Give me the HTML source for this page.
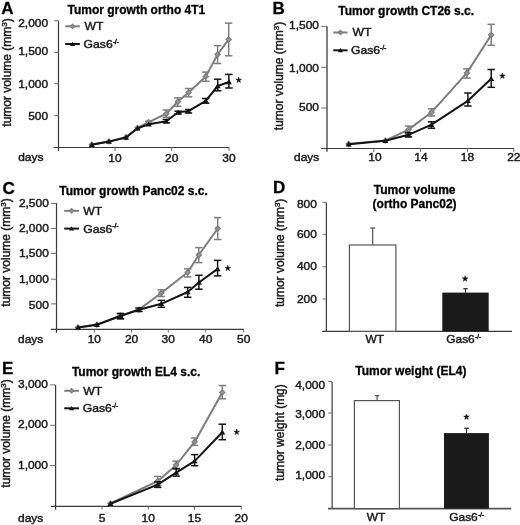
<!DOCTYPE html>
<html><head><meta charset="utf-8"><style>
html,body{margin:0;padding:0;background:#fff;}
svg{display:block;font-family:"Liberation Sans", sans-serif;filter:grayscale(1) blur(0.3px);}
</style></head><body>
<svg width="520" height="525" viewBox="0 0 520 525">
<rect width="520" height="525" fill="#fff"/>
<text x="1.2" y="13.5" font-size="17" text-anchor="start" font-weight="bold" fill="#000" stroke="#000" stroke-width="0.3">A</text>
<text x="67.5" y="14.3" font-size="12" text-anchor="start" font-weight="bold" fill="#000" stroke="#000" stroke-width="0.3">Tumor growth ortho 4T1</text>
<text transform="translate(11.45,126.7) rotate(-90)" x="0" y="0" font-size="12" fill="#1c1c1c" stroke="#1c1c1c" stroke-width="0.45">tumor volume (mm<tspan font-size="8" dy="-4">3</tspan><tspan dy="4">)</tspan></text>
<line x1="58.5" y1="20.7" x2="58.5" y2="151" stroke="#3a3a3a" stroke-width="1.2"/>
<line x1="53.4" y1="147.5" x2="229.2" y2="147.5" stroke="#3a3a3a" stroke-width="1.1"/>
<line x1="54.2" y1="20.7" x2="58.5" y2="20.7" stroke="#6a6a6a" stroke-width="1"/>
<text transform="translate(48.1,27.4) scale(1.05,1)" x="0" y="0" font-size="11.4" text-anchor="end" fill="#1c1c1c" stroke="#1c1c1c" stroke-width="0.45">2,000</text>
<line x1="54.2" y1="52.4" x2="58.5" y2="52.4" stroke="#6a6a6a" stroke-width="1"/>
<text transform="translate(48.1,55.4) scale(1.05,1)" x="0" y="0" font-size="11.4" text-anchor="end" fill="#1c1c1c" stroke="#1c1c1c" stroke-width="0.45">1,500</text>
<line x1="54.2" y1="83.8" x2="58.5" y2="83.8" stroke="#6a6a6a" stroke-width="1"/>
<text transform="translate(48.1,87.6) scale(1.05,1)" x="0" y="0" font-size="11.4" text-anchor="end" fill="#1c1c1c" stroke="#1c1c1c" stroke-width="0.45">1,000</text>
<line x1="54.2" y1="115.7" x2="58.5" y2="115.7" stroke="#6a6a6a" stroke-width="1"/>
<text transform="translate(48.1,120.3) scale(1.05,1)" x="0" y="0" font-size="11.4" text-anchor="end" fill="#1c1c1c" stroke="#1c1c1c" stroke-width="0.45">500</text>
<line x1="115" y1="147.5" x2="115" y2="150.8" stroke="#6a6a6a" stroke-width="1"/>
<text transform="translate(115,161.5) scale(1.05,1)" x="0" y="0" font-size="11.4" text-anchor="middle" fill="#1c1c1c" stroke="#1c1c1c" stroke-width="0.45">10</text>
<line x1="171.7" y1="147.5" x2="171.7" y2="150.8" stroke="#6a6a6a" stroke-width="1"/>
<text transform="translate(171.7,161.5) scale(1.05,1)" x="0" y="0" font-size="11.4" text-anchor="middle" fill="#1c1c1c" stroke="#1c1c1c" stroke-width="0.45">20</text>
<line x1="229" y1="147.5" x2="229" y2="150.8" stroke="#6a6a6a" stroke-width="1"/>
<text transform="translate(229,161.5) scale(1.05,1)" x="0" y="0" font-size="11.4" text-anchor="middle" fill="#1c1c1c" stroke="#1c1c1c" stroke-width="0.45">30</text>
<text transform="translate(18.2,161.3) scale(1.05,1)" x="0" y="0" font-size="11.4" text-anchor="start" fill="#1c1c1c" stroke="#1c1c1c" stroke-width="0.45">days</text>
<line x1="65.2" y1="26.3" x2="79.8" y2="26.3" stroke="#7d7d7d" stroke-width="2"/>
<path d="M70.3,26.3 L72.5,24.1 L74.7,26.3 L72.5,28.5 Z" fill="#959595" stroke="#7d7d7d" stroke-width="1.2"/>
<line x1="65.2" y1="44.0" x2="79.8" y2="44.0" stroke="#141414" stroke-width="2"/>
<path d="M69.9,45.95 L72.5,41.66 L75.1,45.95 Z" fill="#141414"/>
<text transform="translate(84.6,30.0) scale(1.05,1)" x="0" y="0" font-size="11.6" text-anchor="start" fill="#1c1c1c" stroke="#1c1c1c" stroke-width="0.45">WT</text>
<text transform="translate(83.6,48.1) scale(1.05,1)" x="0" y="0" font-size="11.6" text-anchor="start" fill="#1c1c1c" stroke="#1c1c1c" stroke-width="0.45">Gas6<tspan font-size="6.8" dy="-4.3" letter-spacing="-0.2">-/-</tspan></text>
<path d="M91.8,144.6 L109,141.4 L126,137.3 L137.5,128 L148.7,122.1 L166.3,113.7 L177.7,101.8 L188.6,92.4 L205.8,76.4 L217.6,54.5 L228.7,39.4" fill="none" stroke="#7d7d7d" stroke-width="2.0" stroke-linejoin="round"/>
<line x1="148.7" y1="121.2" x2="148.7" y2="124.5" stroke="#7d7d7d" stroke-width="1.5"/>
<line x1="145.0" y1="121.2" x2="152.39999999999998" y2="121.2" stroke="#7d7d7d" stroke-width="1.5"/>
<line x1="145.0" y1="124.5" x2="152.39999999999998" y2="124.5" stroke="#7d7d7d" stroke-width="1.5"/>
<line x1="166.3" y1="110" x2="166.3" y2="117.2" stroke="#7d7d7d" stroke-width="1.5"/>
<line x1="162.60000000000002" y1="110" x2="170.0" y2="110" stroke="#7d7d7d" stroke-width="1.5"/>
<line x1="162.60000000000002" y1="117.2" x2="170.0" y2="117.2" stroke="#7d7d7d" stroke-width="1.5"/>
<line x1="177.7" y1="97.9" x2="177.7" y2="106.3" stroke="#7d7d7d" stroke-width="1.5"/>
<line x1="174.0" y1="97.9" x2="181.39999999999998" y2="97.9" stroke="#7d7d7d" stroke-width="1.5"/>
<line x1="174.0" y1="106.3" x2="181.39999999999998" y2="106.3" stroke="#7d7d7d" stroke-width="1.5"/>
<line x1="188.6" y1="88.5" x2="188.6" y2="96.8" stroke="#7d7d7d" stroke-width="1.5"/>
<line x1="184.9" y1="88.5" x2="192.29999999999998" y2="88.5" stroke="#7d7d7d" stroke-width="1.5"/>
<line x1="184.9" y1="96.8" x2="192.29999999999998" y2="96.8" stroke="#7d7d7d" stroke-width="1.5"/>
<line x1="205.8" y1="72.1" x2="205.8" y2="81.3" stroke="#7d7d7d" stroke-width="1.5"/>
<line x1="202.10000000000002" y1="72.1" x2="209.5" y2="72.1" stroke="#7d7d7d" stroke-width="1.5"/>
<line x1="202.10000000000002" y1="81.3" x2="209.5" y2="81.3" stroke="#7d7d7d" stroke-width="1.5"/>
<line x1="217.6" y1="45.6" x2="217.6" y2="63.5" stroke="#7d7d7d" stroke-width="1.5"/>
<line x1="213.9" y1="45.6" x2="221.29999999999998" y2="45.6" stroke="#7d7d7d" stroke-width="1.5"/>
<line x1="213.9" y1="63.5" x2="221.29999999999998" y2="63.5" stroke="#7d7d7d" stroke-width="1.5"/>
<line x1="228.7" y1="23.1" x2="228.7" y2="55.8" stroke="#7d7d7d" stroke-width="1.5"/>
<line x1="225.0" y1="23.1" x2="232.39999999999998" y2="23.1" stroke="#7d7d7d" stroke-width="1.5"/>
<line x1="225.0" y1="55.8" x2="232.39999999999998" y2="55.8" stroke="#7d7d7d" stroke-width="1.5"/>
<path d="M89.2,144.6 L91.8,142.0 L94.39999999999999,144.6 L91.8,147.2 Z" fill="#959595" stroke="#7d7d7d" stroke-width="1.2"/>
<path d="M106.4,141.4 L109,138.8 L111.6,141.4 L109,144.0 Z" fill="#959595" stroke="#7d7d7d" stroke-width="1.2"/>
<path d="M123.4,137.3 L126,134.70000000000002 L128.6,137.3 L126,139.9 Z" fill="#959595" stroke="#7d7d7d" stroke-width="1.2"/>
<path d="M134.9,128 L137.5,125.4 L140.1,128 L137.5,130.6 Z" fill="#959595" stroke="#7d7d7d" stroke-width="1.2"/>
<path d="M146.1,122.1 L148.7,119.5 L151.29999999999998,122.1 L148.7,124.69999999999999 Z" fill="#959595" stroke="#7d7d7d" stroke-width="1.2"/>
<path d="M163.70000000000002,113.7 L166.3,111.10000000000001 L168.9,113.7 L166.3,116.3 Z" fill="#959595" stroke="#7d7d7d" stroke-width="1.2"/>
<path d="M175.1,101.8 L177.7,99.2 L180.29999999999998,101.8 L177.7,104.39999999999999 Z" fill="#959595" stroke="#7d7d7d" stroke-width="1.2"/>
<path d="M186.0,92.4 L188.6,89.80000000000001 L191.2,92.4 L188.6,95.0 Z" fill="#959595" stroke="#7d7d7d" stroke-width="1.2"/>
<path d="M203.20000000000002,76.4 L205.8,73.80000000000001 L208.4,76.4 L205.8,79.0 Z" fill="#959595" stroke="#7d7d7d" stroke-width="1.2"/>
<path d="M215.0,54.5 L217.6,51.9 L220.2,54.5 L217.6,57.1 Z" fill="#959595" stroke="#7d7d7d" stroke-width="1.2"/>
<path d="M226.1,39.4 L228.7,36.8 L231.29999999999998,39.4 L228.7,42.0 Z" fill="#959595" stroke="#7d7d7d" stroke-width="1.2"/>
<path d="M91.8,144.8 L109,141.6 L126,137.5 L137.5,128.3 L148.7,124.2 L166.3,121.3 L178.1,112.2 L188.5,111.1 L205.7,100.8 L217.7,86.0 L228.9,82.0" fill="none" stroke="#141414" stroke-width="2.0" stroke-linejoin="round"/>
<line x1="166.3" y1="119.4" x2="166.3" y2="122.8" stroke="#141414" stroke-width="1.5"/>
<line x1="162.60000000000002" y1="119.4" x2="170.0" y2="119.4" stroke="#141414" stroke-width="1.5"/>
<line x1="162.60000000000002" y1="122.8" x2="170.0" y2="122.8" stroke="#141414" stroke-width="1.5"/>
<line x1="178.1" y1="111.2" x2="178.1" y2="114" stroke="#141414" stroke-width="1.5"/>
<line x1="174.4" y1="111.2" x2="181.79999999999998" y2="111.2" stroke="#141414" stroke-width="1.5"/>
<line x1="174.4" y1="114" x2="181.79999999999998" y2="114" stroke="#141414" stroke-width="1.5"/>
<line x1="188.5" y1="109.5" x2="188.5" y2="113" stroke="#141414" stroke-width="1.5"/>
<line x1="184.8" y1="109.5" x2="192.2" y2="109.5" stroke="#141414" stroke-width="1.5"/>
<line x1="184.8" y1="113" x2="192.2" y2="113" stroke="#141414" stroke-width="1.5"/>
<line x1="205.7" y1="98.5" x2="205.7" y2="103.2" stroke="#141414" stroke-width="1.5"/>
<line x1="202.0" y1="98.5" x2="209.39999999999998" y2="98.5" stroke="#141414" stroke-width="1.5"/>
<line x1="202.0" y1="103.2" x2="209.39999999999998" y2="103.2" stroke="#141414" stroke-width="1.5"/>
<line x1="217.7" y1="79.2" x2="217.7" y2="90.8" stroke="#141414" stroke-width="1.5"/>
<line x1="214.0" y1="79.2" x2="221.39999999999998" y2="79.2" stroke="#141414" stroke-width="1.5"/>
<line x1="214.0" y1="90.8" x2="221.39999999999998" y2="90.8" stroke="#141414" stroke-width="1.5"/>
<line x1="228.9" y1="74.4" x2="228.9" y2="88.0" stroke="#141414" stroke-width="1.5"/>
<line x1="225.20000000000002" y1="74.4" x2="232.6" y2="74.4" stroke="#141414" stroke-width="1.5"/>
<line x1="225.20000000000002" y1="88.0" x2="232.6" y2="88.0" stroke="#141414" stroke-width="1.5"/>
<path d="M88.8,147.05 L91.8,142.10000000000002 L94.8,147.05 Z" fill="#141414"/>
<path d="M106.0,143.85 L109,138.9 L112.0,143.85 Z" fill="#141414"/>
<path d="M123.0,139.75 L126,134.8 L129.0,139.75 Z" fill="#141414"/>
<path d="M134.5,130.55 L137.5,125.60000000000001 L140.5,130.55 Z" fill="#141414"/>
<path d="M145.7,126.45 L148.7,121.5 L151.7,126.45 Z" fill="#141414"/>
<path d="M163.3,123.55 L166.3,118.6 L169.3,123.55 Z" fill="#141414"/>
<path d="M175.1,114.45 L178.1,109.5 L181.1,114.45 Z" fill="#141414"/>
<path d="M185.5,113.35 L188.5,108.39999999999999 L191.5,113.35 Z" fill="#141414"/>
<path d="M202.7,103.05 L205.7,98.1 L208.7,103.05 Z" fill="#141414"/>
<path d="M214.7,88.25 L217.7,83.3 L220.7,88.25 Z" fill="#141414"/>
<path d="M225.9,84.25 L228.9,79.3 L231.9,84.25 Z" fill="#141414"/>
<polygon points="238.70,77.10 239.38,79.17 241.55,79.17 239.79,80.46 240.46,82.53 238.70,81.25 236.94,82.53 237.61,80.46 235.85,79.17 238.02,79.17" fill="#111" stroke="#111" stroke-width="0.5" stroke-linejoin="round"/>
<text x="272.4" y="13.5" font-size="17" text-anchor="start" font-weight="bold" fill="#000" stroke="#000" stroke-width="0.3">B</text>
<text x="338.3" y="15.1" font-size="12" text-anchor="start" font-weight="bold" fill="#000" stroke="#000" stroke-width="0.3">Tumor growth CT26 s.c.</text>
<text transform="translate(282.7,130.2) rotate(-90)" x="0" y="0" font-size="12" fill="#1c1c1c" stroke="#1c1c1c" stroke-width="0.45">tumor volume (mm<tspan font-size="8" dy="-4">3</tspan><tspan dy="4">)</tspan></text>
<line x1="327.0" y1="26.3" x2="327.0" y2="151.8" stroke="#3a3a3a" stroke-width="1.3"/>
<line x1="321.3" y1="148.5" x2="514" y2="148.5" stroke="#3a3a3a" stroke-width="1.1"/>
<line x1="321.3" y1="26.4" x2="327.0" y2="26.4" stroke="#6a6a6a" stroke-width="1"/>
<text transform="translate(319.0,29.1) scale(1.05,1)" x="0" y="0" font-size="11.4" text-anchor="end" fill="#1c1c1c" stroke="#1c1c1c" stroke-width="0.45">1,500</text>
<line x1="321.3" y1="67.3" x2="327.0" y2="67.3" stroke="#6a6a6a" stroke-width="1"/>
<text transform="translate(319.0,71.9) scale(1.05,1)" x="0" y="0" font-size="11.4" text-anchor="end" fill="#1c1c1c" stroke="#1c1c1c" stroke-width="0.45">1,000</text>
<line x1="321.3" y1="108.0" x2="327.0" y2="108.0" stroke="#6a6a6a" stroke-width="1"/>
<text transform="translate(319.0,111.4) scale(1.05,1)" x="0" y="0" font-size="11.4" text-anchor="end" fill="#1c1c1c" stroke="#1c1c1c" stroke-width="0.45">500</text>
<line x1="373.8" y1="148.5" x2="373.8" y2="152.2" stroke="#6a6a6a" stroke-width="1"/>
<text transform="translate(374.9,161.3) scale(1.05,1)" x="0" y="0" font-size="11.4" text-anchor="middle" fill="#1c1c1c" stroke="#1c1c1c" stroke-width="0.45">10</text>
<line x1="420.6" y1="148.5" x2="420.6" y2="152.2" stroke="#6a6a6a" stroke-width="1"/>
<text transform="translate(421.0,161.3) scale(1.05,1)" x="0" y="0" font-size="11.4" text-anchor="middle" fill="#1c1c1c" stroke="#1c1c1c" stroke-width="0.45">14</text>
<line x1="467.4" y1="148.5" x2="467.4" y2="152.2" stroke="#6a6a6a" stroke-width="1"/>
<text transform="translate(467.4,161.3) scale(1.05,1)" x="0" y="0" font-size="11.4" text-anchor="middle" fill="#1c1c1c" stroke="#1c1c1c" stroke-width="0.45">18</text>
<line x1="513.8" y1="148.5" x2="513.8" y2="152.2" stroke="#6a6a6a" stroke-width="1"/>
<text transform="translate(513.8,161.3) scale(1.05,1)" x="0" y="0" font-size="11.4" text-anchor="middle" fill="#1c1c1c" stroke="#1c1c1c" stroke-width="0.45">22</text>
<text transform="translate(294,161.2) scale(1.05,1)" x="0" y="0" font-size="11.4" text-anchor="start" fill="#1c1c1c" stroke="#1c1c1c" stroke-width="0.45">days</text>
<line x1="333.3" y1="32.5" x2="347.6" y2="32.5" stroke="#7d7d7d" stroke-width="2"/>
<path d="M338.25000000000006,32.5 L340.45000000000005,30.3 L342.65000000000003,32.5 L340.45000000000005,34.7 Z" fill="#959595" stroke="#7d7d7d" stroke-width="1.2"/>
<line x1="333.3" y1="50.3" x2="347.6" y2="50.3" stroke="#141414" stroke-width="2"/>
<path d="M337.85,52.25 L340.45000000000005,47.959999999999994 L343.05000000000007,52.25 Z" fill="#141414"/>
<text transform="translate(352.4,36.2) scale(1.05,1)" x="0" y="0" font-size="11.6" text-anchor="start" fill="#1c1c1c" stroke="#1c1c1c" stroke-width="0.45">WT</text>
<text transform="translate(351.0,54.4) scale(1.05,1)" x="0" y="0" font-size="11.6" text-anchor="start" fill="#1c1c1c" stroke="#1c1c1c" stroke-width="0.45">Gas6<tspan font-size="6.8" dy="-4.3" letter-spacing="-0.2">-/-</tspan></text>
<path d="M348.7,144 L385.4,140.6 L408.5,129.6 L431.5,112.3 L466.9,72.9 L491.2,35.0" fill="none" stroke="#7d7d7d" stroke-width="2.0" stroke-linejoin="round"/>
<line x1="408.5" y1="126.1" x2="408.5" y2="133.4" stroke="#7d7d7d" stroke-width="1.5"/>
<line x1="404.8" y1="126.1" x2="412.2" y2="126.1" stroke="#7d7d7d" stroke-width="1.5"/>
<line x1="404.8" y1="133.4" x2="412.2" y2="133.4" stroke="#7d7d7d" stroke-width="1.5"/>
<line x1="431.5" y1="108.8" x2="431.5" y2="116" stroke="#7d7d7d" stroke-width="1.5"/>
<line x1="427.8" y1="108.8" x2="435.2" y2="108.8" stroke="#7d7d7d" stroke-width="1.5"/>
<line x1="427.8" y1="116" x2="435.2" y2="116" stroke="#7d7d7d" stroke-width="1.5"/>
<line x1="466.9" y1="68.8" x2="466.9" y2="78.1" stroke="#7d7d7d" stroke-width="1.5"/>
<line x1="463.2" y1="68.8" x2="470.59999999999997" y2="68.8" stroke="#7d7d7d" stroke-width="1.5"/>
<line x1="463.2" y1="78.1" x2="470.59999999999997" y2="78.1" stroke="#7d7d7d" stroke-width="1.5"/>
<line x1="491.2" y1="24.3" x2="491.2" y2="45.3" stroke="#7d7d7d" stroke-width="1.5"/>
<line x1="487.5" y1="24.3" x2="494.9" y2="24.3" stroke="#7d7d7d" stroke-width="1.5"/>
<line x1="487.5" y1="45.3" x2="494.9" y2="45.3" stroke="#7d7d7d" stroke-width="1.5"/>
<path d="M346.09999999999997,144 L348.7,141.4 L351.3,144 L348.7,146.6 Z" fill="#959595" stroke="#7d7d7d" stroke-width="1.2"/>
<path d="M382.79999999999995,140.6 L385.4,138.0 L388.0,140.6 L385.4,143.2 Z" fill="#959595" stroke="#7d7d7d" stroke-width="1.2"/>
<path d="M405.9,129.6 L408.5,127.0 L411.1,129.6 L408.5,132.2 Z" fill="#959595" stroke="#7d7d7d" stroke-width="1.2"/>
<path d="M428.9,112.3 L431.5,109.7 L434.1,112.3 L431.5,114.89999999999999 Z" fill="#959595" stroke="#7d7d7d" stroke-width="1.2"/>
<path d="M464.29999999999995,72.9 L466.9,70.30000000000001 L469.5,72.9 L466.9,75.5 Z" fill="#959595" stroke="#7d7d7d" stroke-width="1.2"/>
<path d="M488.59999999999997,35.0 L491.2,32.4 L493.8,35.0 L491.2,37.6 Z" fill="#959595" stroke="#7d7d7d" stroke-width="1.2"/>
<path d="M348.7,144.2 L385.4,140.8 L408.5,134.8 L431.5,124.7 L467.9,100.8 L491.2,78.8" fill="none" stroke="#141414" stroke-width="2.0" stroke-linejoin="round"/>
<line x1="408.5" y1="132.6" x2="408.5" y2="137" stroke="#141414" stroke-width="1.5"/>
<line x1="404.8" y1="132.6" x2="412.2" y2="132.6" stroke="#141414" stroke-width="1.5"/>
<line x1="404.8" y1="137" x2="412.2" y2="137" stroke="#141414" stroke-width="1.5"/>
<line x1="431.5" y1="121.8" x2="431.5" y2="128.2" stroke="#141414" stroke-width="1.5"/>
<line x1="427.8" y1="121.8" x2="435.2" y2="121.8" stroke="#141414" stroke-width="1.5"/>
<line x1="427.8" y1="128.2" x2="435.2" y2="128.2" stroke="#141414" stroke-width="1.5"/>
<line x1="467.9" y1="93" x2="467.9" y2="106" stroke="#141414" stroke-width="1.5"/>
<line x1="464.2" y1="93" x2="471.59999999999997" y2="93" stroke="#141414" stroke-width="1.5"/>
<line x1="464.2" y1="106" x2="471.59999999999997" y2="106" stroke="#141414" stroke-width="1.5"/>
<line x1="491.2" y1="69.5" x2="491.2" y2="87.3" stroke="#141414" stroke-width="1.5"/>
<line x1="487.5" y1="69.5" x2="494.9" y2="69.5" stroke="#141414" stroke-width="1.5"/>
<line x1="487.5" y1="87.3" x2="494.9" y2="87.3" stroke="#141414" stroke-width="1.5"/>
<path d="M345.7,146.45 L348.7,141.5 L351.7,146.45 Z" fill="#141414"/>
<path d="M382.4,143.05 L385.4,138.10000000000002 L388.4,143.05 Z" fill="#141414"/>
<path d="M405.5,137.05 L408.5,132.10000000000002 L411.5,137.05 Z" fill="#141414"/>
<path d="M428.5,126.95 L431.5,122.0 L434.5,126.95 Z" fill="#141414"/>
<path d="M464.9,103.05 L467.9,98.1 L470.9,103.05 Z" fill="#141414"/>
<path d="M488.2,81.05 L491.2,76.1 L494.2,81.05 Z" fill="#141414"/>
<polygon points="502.40,73.00 503.08,75.07 505.25,75.07 503.49,76.36 504.16,78.43 502.40,77.15 500.64,78.43 501.31,76.36 499.55,75.07 501.72,75.07" fill="#111" stroke="#111" stroke-width="0.5" stroke-linejoin="round"/>
<text x="2.5" y="193.6" font-size="17" text-anchor="start" font-weight="bold" fill="#000" stroke="#000" stroke-width="0.3">C</text>
<text x="59.3" y="194.6" font-size="12" text-anchor="start" font-weight="bold" fill="#000" stroke="#000" stroke-width="0.3">Tumor growth Panc02 s.c.</text>
<text transform="translate(10.3,306.7) rotate(-90)" x="0" y="0" font-size="12" fill="#1c1c1c" stroke="#1c1c1c" stroke-width="0.45">tumor volume (mm<tspan font-size="8" dy="-4">3</tspan><tspan dy="4">)</tspan></text>
<line x1="56.5" y1="203" x2="56.5" y2="332.8" stroke="#3a3a3a" stroke-width="1.2"/>
<line x1="50.8" y1="329.4" x2="244" y2="329.4" stroke="#3a3a3a" stroke-width="1.1"/>
<line x1="51.1" y1="203.4" x2="56.5" y2="203.4" stroke="#6a6a6a" stroke-width="1"/>
<text transform="translate(48.8,206.6) scale(1.05,1)" x="0" y="0" font-size="11.4" text-anchor="end" fill="#1c1c1c" stroke="#1c1c1c" stroke-width="0.45">2,500</text>
<line x1="51.1" y1="228.4" x2="56.5" y2="228.4" stroke="#6a6a6a" stroke-width="1"/>
<text transform="translate(48.8,232.2) scale(1.05,1)" x="0" y="0" font-size="11.4" text-anchor="end" fill="#1c1c1c" stroke="#1c1c1c" stroke-width="0.45">2,000</text>
<line x1="51.1" y1="253.4" x2="56.5" y2="253.4" stroke="#6a6a6a" stroke-width="1"/>
<text transform="translate(48.8,257.0) scale(1.05,1)" x="0" y="0" font-size="11.4" text-anchor="end" fill="#1c1c1c" stroke="#1c1c1c" stroke-width="0.45">1,500</text>
<line x1="51.1" y1="279.2" x2="56.5" y2="279.2" stroke="#6a6a6a" stroke-width="1"/>
<text transform="translate(48.8,283.4) scale(1.05,1)" x="0" y="0" font-size="11.4" text-anchor="end" fill="#1c1c1c" stroke="#1c1c1c" stroke-width="0.45">1,000</text>
<line x1="51.1" y1="303.9" x2="56.5" y2="303.9" stroke="#6a6a6a" stroke-width="1"/>
<text transform="translate(48.8,309.1) scale(1.05,1)" x="0" y="0" font-size="11.4" text-anchor="end" fill="#1c1c1c" stroke="#1c1c1c" stroke-width="0.45">500</text>
<line x1="94.3" y1="329.4" x2="94.3" y2="332.6" stroke="#6a6a6a" stroke-width="1"/>
<text transform="translate(94.3,343.4) scale(1.05,1)" x="0" y="0" font-size="11.4" text-anchor="middle" fill="#1c1c1c" stroke="#1c1c1c" stroke-width="0.45">10</text>
<line x1="131.6" y1="329.4" x2="131.6" y2="332.6" stroke="#6a6a6a" stroke-width="1"/>
<text transform="translate(131.6,343.4) scale(1.05,1)" x="0" y="0" font-size="11.4" text-anchor="middle" fill="#1c1c1c" stroke="#1c1c1c" stroke-width="0.45">20</text>
<line x1="168.25" y1="329.4" x2="168.25" y2="332.6" stroke="#6a6a6a" stroke-width="1"/>
<text transform="translate(168.25,343.4) scale(1.05,1)" x="0" y="0" font-size="11.4" text-anchor="middle" fill="#1c1c1c" stroke="#1c1c1c" stroke-width="0.45">30</text>
<line x1="205.75" y1="329.4" x2="205.75" y2="332.6" stroke="#6a6a6a" stroke-width="1"/>
<text transform="translate(205.75,343.4) scale(1.05,1)" x="0" y="0" font-size="11.4" text-anchor="middle" fill="#1c1c1c" stroke="#1c1c1c" stroke-width="0.45">40</text>
<line x1="243.75" y1="329.4" x2="243.75" y2="332.6" stroke="#6a6a6a" stroke-width="1"/>
<text transform="translate(243.75,343.4) scale(1.05,1)" x="0" y="0" font-size="11.4" text-anchor="middle" fill="#1c1c1c" stroke="#1c1c1c" stroke-width="0.45">50</text>
<text transform="translate(18,343.3) scale(1.05,1)" x="0" y="0" font-size="11.4" text-anchor="start" fill="#1c1c1c" stroke="#1c1c1c" stroke-width="0.45">days</text>
<line x1="64.2" y1="210.8" x2="79" y2="210.8" stroke="#7d7d7d" stroke-width="2"/>
<path d="M69.39999999999999,210.8 L71.6,208.60000000000002 L73.8,210.8 L71.6,213.0 Z" fill="#959595" stroke="#7d7d7d" stroke-width="1.2"/>
<line x1="64.2" y1="228.6" x2="79" y2="228.6" stroke="#141414" stroke-width="2"/>
<path d="M69.0,230.54999999999998 L71.6,226.26 L74.19999999999999,230.54999999999998 Z" fill="#141414"/>
<text transform="translate(83.3,214.5) scale(1.05,1)" x="0" y="0" font-size="11.6" text-anchor="start" fill="#1c1c1c" stroke="#1c1c1c" stroke-width="0.45">WT</text>
<text transform="translate(83.3,232.7) scale(1.05,1)" x="0" y="0" font-size="11.6" text-anchor="start" fill="#1c1c1c" stroke="#1c1c1c" stroke-width="0.45">Gas6<tspan font-size="6.8" dy="-4.3" letter-spacing="-0.2">-/-</tspan></text>
<path d="M78,327.4 L96.9,324.6 L120.5,315.8 L138.9,309.6 L161.3,293 L187.7,272.3 L198.8,255 L217.7,228.5" fill="none" stroke="#7d7d7d" stroke-width="2.0" stroke-linejoin="round"/>
<line x1="120.5" y1="313.5" x2="120.5" y2="318.8" stroke="#7d7d7d" stroke-width="1.5"/>
<line x1="116.8" y1="313.5" x2="124.2" y2="313.5" stroke="#7d7d7d" stroke-width="1.5"/>
<line x1="116.8" y1="318.8" x2="124.2" y2="318.8" stroke="#7d7d7d" stroke-width="1.5"/>
<line x1="161.3" y1="289.8" x2="161.3" y2="296.5" stroke="#7d7d7d" stroke-width="1.5"/>
<line x1="157.60000000000002" y1="289.8" x2="165.0" y2="289.8" stroke="#7d7d7d" stroke-width="1.5"/>
<line x1="157.60000000000002" y1="296.5" x2="165.0" y2="296.5" stroke="#7d7d7d" stroke-width="1.5"/>
<line x1="187.7" y1="268.8" x2="187.7" y2="276.9" stroke="#7d7d7d" stroke-width="1.5"/>
<line x1="184.0" y1="268.8" x2="191.39999999999998" y2="268.8" stroke="#7d7d7d" stroke-width="1.5"/>
<line x1="184.0" y1="276.9" x2="191.39999999999998" y2="276.9" stroke="#7d7d7d" stroke-width="1.5"/>
<line x1="198.8" y1="247.6" x2="198.8" y2="262.6" stroke="#7d7d7d" stroke-width="1.5"/>
<line x1="195.10000000000002" y1="247.6" x2="202.5" y2="247.6" stroke="#7d7d7d" stroke-width="1.5"/>
<line x1="195.10000000000002" y1="262.6" x2="202.5" y2="262.6" stroke="#7d7d7d" stroke-width="1.5"/>
<line x1="217.7" y1="217.6" x2="217.7" y2="239.5" stroke="#7d7d7d" stroke-width="1.5"/>
<line x1="214.0" y1="217.6" x2="221.39999999999998" y2="217.6" stroke="#7d7d7d" stroke-width="1.5"/>
<line x1="214.0" y1="239.5" x2="221.39999999999998" y2="239.5" stroke="#7d7d7d" stroke-width="1.5"/>
<path d="M75.4,327.4 L78,324.79999999999995 L80.6,327.4 L78,330.0 Z" fill="#959595" stroke="#7d7d7d" stroke-width="1.2"/>
<path d="M94.30000000000001,324.6 L96.9,322.0 L99.5,324.6 L96.9,327.20000000000005 Z" fill="#959595" stroke="#7d7d7d" stroke-width="1.2"/>
<path d="M117.9,315.8 L120.5,313.2 L123.1,315.8 L120.5,318.40000000000003 Z" fill="#959595" stroke="#7d7d7d" stroke-width="1.2"/>
<path d="M136.3,309.6 L138.9,307.0 L141.5,309.6 L138.9,312.20000000000005 Z" fill="#959595" stroke="#7d7d7d" stroke-width="1.2"/>
<path d="M158.70000000000002,293 L161.3,290.4 L163.9,293 L161.3,295.6 Z" fill="#959595" stroke="#7d7d7d" stroke-width="1.2"/>
<path d="M185.1,272.3 L187.7,269.7 L190.29999999999998,272.3 L187.7,274.90000000000003 Z" fill="#959595" stroke="#7d7d7d" stroke-width="1.2"/>
<path d="M196.20000000000002,255 L198.8,252.4 L201.4,255 L198.8,257.6 Z" fill="#959595" stroke="#7d7d7d" stroke-width="1.2"/>
<path d="M215.1,228.5 L217.7,225.9 L220.29999999999998,228.5 L217.7,231.1 Z" fill="#959595" stroke="#7d7d7d" stroke-width="1.2"/>
<path d="M78,327.6 L96.9,324.8 L120.5,316 L138.9,309.8 L161.3,303.8 L187.7,292.0 L198.9,282.5 L217.6,268.9" fill="none" stroke="#141414" stroke-width="2.0" stroke-linejoin="round"/>
<line x1="120.5" y1="313.5" x2="120.5" y2="318.8" stroke="#141414" stroke-width="1.5"/>
<line x1="116.8" y1="313.5" x2="124.2" y2="313.5" stroke="#141414" stroke-width="1.5"/>
<line x1="116.8" y1="318.8" x2="124.2" y2="318.8" stroke="#141414" stroke-width="1.5"/>
<line x1="138.9" y1="308" x2="138.9" y2="311.5" stroke="#141414" stroke-width="1.5"/>
<line x1="135.20000000000002" y1="308" x2="142.6" y2="308" stroke="#141414" stroke-width="1.5"/>
<line x1="135.20000000000002" y1="311.5" x2="142.6" y2="311.5" stroke="#141414" stroke-width="1.5"/>
<line x1="161.3" y1="300.4" x2="161.3" y2="307.3" stroke="#141414" stroke-width="1.5"/>
<line x1="157.60000000000002" y1="300.4" x2="165.0" y2="300.4" stroke="#141414" stroke-width="1.5"/>
<line x1="157.60000000000002" y1="307.3" x2="165.0" y2="307.3" stroke="#141414" stroke-width="1.5"/>
<line x1="187.7" y1="287.4" x2="187.7" y2="297.3" stroke="#141414" stroke-width="1.5"/>
<line x1="184.0" y1="287.4" x2="191.39999999999998" y2="287.4" stroke="#141414" stroke-width="1.5"/>
<line x1="184.0" y1="297.3" x2="191.39999999999998" y2="297.3" stroke="#141414" stroke-width="1.5"/>
<line x1="198.9" y1="275.3" x2="198.9" y2="289.2" stroke="#141414" stroke-width="1.5"/>
<line x1="195.20000000000002" y1="275.3" x2="202.6" y2="275.3" stroke="#141414" stroke-width="1.5"/>
<line x1="195.20000000000002" y1="289.2" x2="202.6" y2="289.2" stroke="#141414" stroke-width="1.5"/>
<line x1="217.6" y1="260.4" x2="217.6" y2="275.9" stroke="#141414" stroke-width="1.5"/>
<line x1="213.9" y1="260.4" x2="221.29999999999998" y2="260.4" stroke="#141414" stroke-width="1.5"/>
<line x1="213.9" y1="275.9" x2="221.29999999999998" y2="275.9" stroke="#141414" stroke-width="1.5"/>
<path d="M75.0,329.85 L78,324.90000000000003 L81.0,329.85 Z" fill="#141414"/>
<path d="M93.9,327.05 L96.9,322.1 L99.9,327.05 Z" fill="#141414"/>
<path d="M117.5,318.25 L120.5,313.3 L123.5,318.25 Z" fill="#141414"/>
<path d="M135.9,312.05 L138.9,307.1 L141.9,312.05 Z" fill="#141414"/>
<path d="M158.3,306.05 L161.3,301.1 L164.3,306.05 Z" fill="#141414"/>
<path d="M184.7,294.25 L187.7,289.3 L190.7,294.25 Z" fill="#141414"/>
<path d="M195.9,284.75 L198.9,279.8 L201.9,284.75 Z" fill="#141414"/>
<path d="M214.6,271.15 L217.6,266.2 L220.6,271.15 Z" fill="#141414"/>
<polygon points="227.80,265.20 228.48,267.27 230.65,267.27 228.89,268.56 229.56,270.63 227.80,269.35 226.04,270.63 226.71,268.56 224.95,267.27 227.12,267.27" fill="#111" stroke="#111" stroke-width="0.5" stroke-linejoin="round"/>
<text x="273.0" y="192.9" font-size="17" text-anchor="start" font-weight="bold" fill="#000" stroke="#000" stroke-width="0.3">D</text>
<text x="414.6" y="194.4" font-size="12" text-anchor="middle" font-weight="bold" fill="#000" stroke="#000" stroke-width="0.3">Tumor volume</text>
<text x="414.6" y="208.0" font-size="12" text-anchor="middle" font-weight="bold" fill="#000" stroke="#000" stroke-width="0.3">(ortho Panc02)</text>
<text transform="translate(284.4,307.1) rotate(-90)" x="0" y="0" font-size="12" fill="#1c1c1c" stroke="#1c1c1c" stroke-width="0.45">tumor volume (mm<tspan font-size="8" dy="-4">3</tspan><tspan dy="4">)</tspan></text>
<line x1="326.4" y1="202.6" x2="326.4" y2="331.3" stroke="#3a3a3a" stroke-width="1.2"/>
<line x1="322.2" y1="331.3" x2="512" y2="331.3" stroke="#3a3a3a" stroke-width="1.2"/>
<line x1="322.5" y1="202.3" x2="326.4" y2="202.3" stroke="#6a6a6a" stroke-width="1"/>
<text transform="translate(316.9,207.5) scale(1.05,1)" x="0" y="0" font-size="11.4" text-anchor="end" fill="#1c1c1c" stroke="#1c1c1c" stroke-width="0.45">800</text>
<line x1="322.5" y1="234.3" x2="326.4" y2="234.3" stroke="#6a6a6a" stroke-width="1"/>
<text transform="translate(316.9,238.1) scale(1.05,1)" x="0" y="0" font-size="11.4" text-anchor="end" fill="#1c1c1c" stroke="#1c1c1c" stroke-width="0.45">600</text>
<line x1="322.5" y1="266.8" x2="326.4" y2="266.8" stroke="#6a6a6a" stroke-width="1"/>
<text transform="translate(316.9,270.2) scale(1.05,1)" x="0" y="0" font-size="11.4" text-anchor="end" fill="#1c1c1c" stroke="#1c1c1c" stroke-width="0.45">400</text>
<line x1="322.5" y1="299.0" x2="326.4" y2="299.0" stroke="#6a6a6a" stroke-width="1"/>
<text transform="translate(316.9,302.6) scale(1.05,1)" x="0" y="0" font-size="11.4" text-anchor="end" fill="#1c1c1c" stroke="#1c1c1c" stroke-width="0.45">200</text>
<line x1="372.7" y1="228.0" x2="372.7" y2="245" stroke="#555" stroke-width="1.2"/>
<line x1="370.2" y1="228.0" x2="375.2" y2="228.0" stroke="#555" stroke-width="1.3"/>
<rect x="349.4" y="245" width="46.5" height="86.3" fill="#fff" stroke="#555" stroke-width="1.2"/>
<line x1="465.5" y1="288.7" x2="465.5" y2="292.6" stroke="#333" stroke-width="1.2"/>
<line x1="463.3" y1="288.7" x2="467.7" y2="288.7" stroke="#333" stroke-width="1.3"/>
<rect x="442.3" y="292.6" width="46.4" height="38.7" fill="#1a1a1a"/>
<polygon points="465.10,275.80 465.78,277.87 467.95,277.87 466.19,279.16 466.86,281.23 465.10,279.95 463.34,281.23 464.01,279.16 462.25,277.87 464.42,277.87" fill="#111" stroke="#111" stroke-width="0.5" stroke-linejoin="round"/>
<text transform="translate(374.8,343.2) scale(1.05,1)" x="0" y="0" font-size="11.4" text-anchor="middle" fill="#1c1c1c" stroke="#1c1c1c" stroke-width="0.45">WT</text>
<text transform="translate(446.2,343.2) scale(1.05,1)" x="0" y="0" font-size="11.4" text-anchor="start" fill="#1c1c1c" stroke="#1c1c1c" stroke-width="0.45">Gas6<tspan font-size="6.8" dy="-4.3" letter-spacing="-0.2">-/-</tspan></text>
<text x="2.0" y="374.3" font-size="17" text-anchor="start" font-weight="bold" fill="#000" stroke="#000" stroke-width="0.3">E</text>
<text x="71.9" y="375.8" font-size="12" text-anchor="start" font-weight="bold" fill="#000" stroke="#000" stroke-width="0.3">Tumor growth EL4 s.c.</text>
<text transform="translate(9.9,487.7) rotate(-90)" x="0" y="0" font-size="12" fill="#1c1c1c" stroke="#1c1c1c" stroke-width="0.45">tumor volume (mm<tspan font-size="8" dy="-4">3</tspan><tspan dy="4">)</tspan></text>
<line x1="55.6" y1="385" x2="55.6" y2="509.8" stroke="#3a3a3a" stroke-width="1.2"/>
<line x1="50.8" y1="506.4" x2="241.5" y2="506.4" stroke="#3a3a3a" stroke-width="1.1"/>
<line x1="50.2" y1="384.9" x2="55.6" y2="384.9" stroke="#6a6a6a" stroke-width="1"/>
<text transform="translate(47.9,388.3) scale(1.05,1)" x="0" y="0" font-size="11.4" text-anchor="end" fill="#1c1c1c" stroke="#1c1c1c" stroke-width="0.45">3,000</text>
<line x1="50.2" y1="425.3" x2="55.6" y2="425.3" stroke="#6a6a6a" stroke-width="1"/>
<text transform="translate(47.9,427.6) scale(1.05,1)" x="0" y="0" font-size="11.4" text-anchor="end" fill="#1c1c1c" stroke="#1c1c1c" stroke-width="0.45">2,000</text>
<line x1="50.2" y1="465.6" x2="55.6" y2="465.6" stroke="#6a6a6a" stroke-width="1"/>
<text transform="translate(47.9,469.0) scale(1.05,1)" x="0" y="0" font-size="11.4" text-anchor="end" fill="#1c1c1c" stroke="#1c1c1c" stroke-width="0.45">1,000</text>
<line x1="102" y1="506.4" x2="102" y2="509.6" stroke="#6a6a6a" stroke-width="1"/>
<text transform="translate(102,522.0) scale(1.05,1)" x="0" y="0" font-size="11.4" text-anchor="middle" fill="#1c1c1c" stroke="#1c1c1c" stroke-width="0.45">5</text>
<line x1="148.25" y1="506.4" x2="148.25" y2="509.6" stroke="#6a6a6a" stroke-width="1"/>
<text transform="translate(148.25,522.0) scale(1.05,1)" x="0" y="0" font-size="11.4" text-anchor="middle" fill="#1c1c1c" stroke="#1c1c1c" stroke-width="0.45">10</text>
<line x1="194.5" y1="506.4" x2="194.5" y2="509.6" stroke="#6a6a6a" stroke-width="1"/>
<text transform="translate(194.5,522.0) scale(1.05,1)" x="0" y="0" font-size="11.4" text-anchor="middle" fill="#1c1c1c" stroke="#1c1c1c" stroke-width="0.45">15</text>
<line x1="241.25" y1="506.4" x2="241.25" y2="509.6" stroke="#6a6a6a" stroke-width="1"/>
<text transform="translate(241.25,522.0) scale(1.05,1)" x="0" y="0" font-size="11.4" text-anchor="middle" fill="#1c1c1c" stroke="#1c1c1c" stroke-width="0.45">20</text>
<text transform="translate(18,522.0) scale(1.05,1)" x="0" y="0" font-size="11.4" text-anchor="start" fill="#1c1c1c" stroke="#1c1c1c" stroke-width="0.45">days</text>
<line x1="64.2" y1="390.8" x2="79" y2="390.8" stroke="#7d7d7d" stroke-width="2"/>
<path d="M69.39999999999999,390.8 L71.6,388.6 L73.8,390.8 L71.6,393.0 Z" fill="#959595" stroke="#7d7d7d" stroke-width="1.2"/>
<line x1="64.2" y1="408.3" x2="79" y2="408.3" stroke="#141414" stroke-width="2"/>
<path d="M69.0,410.25 L71.6,405.96000000000004 L74.19999999999999,410.25 Z" fill="#141414"/>
<text transform="translate(83.3,394.5) scale(1.05,1)" x="0" y="0" font-size="11.6" text-anchor="start" fill="#1c1c1c" stroke="#1c1c1c" stroke-width="0.45">WT</text>
<text transform="translate(82.7,412.40000000000003) scale(1.05,1)" x="0" y="0" font-size="11.6" text-anchor="start" fill="#1c1c1c" stroke="#1c1c1c" stroke-width="0.45">Gas6<tspan font-size="6.8" dy="-4.3" letter-spacing="-0.2">-/-</tspan></text>
<path d="M110.4,503.5 L157.7,481.2 L176.2,465 L194.6,441.9 L222.3,392.4" fill="none" stroke="#7d7d7d" stroke-width="2.0" stroke-linejoin="round"/>
<line x1="157.7" y1="476.5" x2="157.7" y2="485.1" stroke="#7d7d7d" stroke-width="1.5"/>
<line x1="154.0" y1="476.5" x2="161.39999999999998" y2="476.5" stroke="#7d7d7d" stroke-width="1.5"/>
<line x1="154.0" y1="485.1" x2="161.39999999999998" y2="485.1" stroke="#7d7d7d" stroke-width="1.5"/>
<line x1="176.2" y1="461.1" x2="176.2" y2="469.2" stroke="#7d7d7d" stroke-width="1.5"/>
<line x1="172.5" y1="461.1" x2="179.89999999999998" y2="461.1" stroke="#7d7d7d" stroke-width="1.5"/>
<line x1="172.5" y1="469.2" x2="179.89999999999998" y2="469.2" stroke="#7d7d7d" stroke-width="1.5"/>
<line x1="194.6" y1="438" x2="194.6" y2="445.4" stroke="#7d7d7d" stroke-width="1.5"/>
<line x1="190.9" y1="438" x2="198.29999999999998" y2="438" stroke="#7d7d7d" stroke-width="1.5"/>
<line x1="190.9" y1="445.4" x2="198.29999999999998" y2="445.4" stroke="#7d7d7d" stroke-width="1.5"/>
<line x1="222.3" y1="385.5" x2="222.3" y2="398.8" stroke="#7d7d7d" stroke-width="1.5"/>
<line x1="218.60000000000002" y1="385.5" x2="226.0" y2="385.5" stroke="#7d7d7d" stroke-width="1.5"/>
<line x1="218.60000000000002" y1="398.8" x2="226.0" y2="398.8" stroke="#7d7d7d" stroke-width="1.5"/>
<path d="M107.80000000000001,503.5 L110.4,500.9 L113.0,503.5 L110.4,506.1 Z" fill="#959595" stroke="#7d7d7d" stroke-width="1.2"/>
<path d="M155.1,481.2 L157.7,478.59999999999997 L160.29999999999998,481.2 L157.7,483.8 Z" fill="#959595" stroke="#7d7d7d" stroke-width="1.2"/>
<path d="M173.6,465 L176.2,462.4 L178.79999999999998,465 L176.2,467.6 Z" fill="#959595" stroke="#7d7d7d" stroke-width="1.2"/>
<path d="M192.0,441.9 L194.6,439.29999999999995 L197.2,441.9 L194.6,444.5 Z" fill="#959595" stroke="#7d7d7d" stroke-width="1.2"/>
<path d="M219.70000000000002,392.4 L222.3,389.79999999999995 L224.9,392.4 L222.3,395.0 Z" fill="#959595" stroke="#7d7d7d" stroke-width="1.2"/>
<path d="M110.4,503.7 L157.7,484.6 L176.2,472.6 L194.6,461.1 L222.3,432.3" fill="none" stroke="#141414" stroke-width="2.0" stroke-linejoin="round"/>
<line x1="157.7" y1="481.8" x2="157.7" y2="487.4" stroke="#141414" stroke-width="1.5"/>
<line x1="154.0" y1="481.8" x2="161.39999999999998" y2="481.8" stroke="#141414" stroke-width="1.5"/>
<line x1="154.0" y1="487.4" x2="161.39999999999998" y2="487.4" stroke="#141414" stroke-width="1.5"/>
<line x1="176.2" y1="468.5" x2="176.2" y2="476.1" stroke="#141414" stroke-width="1.5"/>
<line x1="172.5" y1="468.5" x2="179.89999999999998" y2="468.5" stroke="#141414" stroke-width="1.5"/>
<line x1="172.5" y1="476.1" x2="179.89999999999998" y2="476.1" stroke="#141414" stroke-width="1.5"/>
<line x1="194.6" y1="454.6" x2="194.6" y2="465.7" stroke="#141414" stroke-width="1.5"/>
<line x1="190.9" y1="454.6" x2="198.29999999999998" y2="454.6" stroke="#141414" stroke-width="1.5"/>
<line x1="190.9" y1="465.7" x2="198.29999999999998" y2="465.7" stroke="#141414" stroke-width="1.5"/>
<line x1="222.3" y1="424.2" x2="222.3" y2="439.7" stroke="#141414" stroke-width="1.5"/>
<line x1="218.60000000000002" y1="424.2" x2="226.0" y2="424.2" stroke="#141414" stroke-width="1.5"/>
<line x1="218.60000000000002" y1="439.7" x2="226.0" y2="439.7" stroke="#141414" stroke-width="1.5"/>
<path d="M107.4,505.95 L110.4,501.0 L113.4,505.95 Z" fill="#141414"/>
<path d="M154.7,486.85 L157.7,481.90000000000003 L160.7,486.85 Z" fill="#141414"/>
<path d="M173.2,474.85 L176.2,469.90000000000003 L179.2,474.85 Z" fill="#141414"/>
<path d="M191.6,463.35 L194.6,458.40000000000003 L197.6,463.35 Z" fill="#141414"/>
<path d="M219.3,434.55 L222.3,429.6 L225.3,434.55 Z" fill="#141414"/>
<polygon points="236.70,429.10 237.38,431.17 239.55,431.17 237.79,432.46 238.46,434.53 236.70,433.25 234.94,434.53 235.61,432.46 233.85,431.17 236.02,431.17" fill="#111" stroke="#111" stroke-width="0.5" stroke-linejoin="round"/>
<text x="274.6" y="374.3" font-size="17" text-anchor="start" font-weight="bold" fill="#000" stroke="#000" stroke-width="0.3">F</text>
<text x="355.3" y="375.3" font-size="12" text-anchor="start" font-weight="bold" fill="#000" stroke="#000" stroke-width="0.3">Tumor weight (EL4)</text>
<text transform="translate(284.4,480.9) rotate(-90)" x="0" y="0" font-size="12" fill="#1c1c1c" stroke="#1c1c1c" stroke-width="0.45">tumor weight (mg)</text>
<line x1="332.1" y1="382" x2="332.1" y2="508.6" stroke="#3a3a3a" stroke-width="1.2"/>
<line x1="328.0" y1="508.6" x2="511.3" y2="508.6" stroke="#555" stroke-width="1.6"/>
<line x1="328.3" y1="381.5" x2="332.1" y2="381.5" stroke="#6a6a6a" stroke-width="1"/>
<text transform="translate(325.1,388.5) scale(1.05,1)" x="0" y="0" font-size="11.4" text-anchor="end" fill="#1c1c1c" stroke="#1c1c1c" stroke-width="0.45">4,000</text>
<line x1="328.3" y1="413.0" x2="332.1" y2="413.0" stroke="#6a6a6a" stroke-width="1"/>
<text transform="translate(325.1,417.6) scale(1.05,1)" x="0" y="0" font-size="11.4" text-anchor="end" fill="#1c1c1c" stroke="#1c1c1c" stroke-width="0.45">3,000</text>
<line x1="328.3" y1="445.0" x2="332.1" y2="445.0" stroke="#6a6a6a" stroke-width="1"/>
<text transform="translate(325.1,448.9) scale(1.05,1)" x="0" y="0" font-size="11.4" text-anchor="end" fill="#1c1c1c" stroke="#1c1c1c" stroke-width="0.45">2,000</text>
<line x1="328.3" y1="476.7" x2="332.1" y2="476.7" stroke="#6a6a6a" stroke-width="1"/>
<text transform="translate(325.1,478.8) scale(1.05,1)" x="0" y="0" font-size="11.4" text-anchor="end" fill="#1c1c1c" stroke="#1c1c1c" stroke-width="0.45">1,000</text>
<line x1="377.1" y1="395.6" x2="377.1" y2="400.6" stroke="#555" stroke-width="1.2"/>
<line x1="375.0" y1="395.6" x2="379.2" y2="395.6" stroke="#555" stroke-width="1.3"/>
<rect x="354.4" y="400.6" width="45.0" height="108" fill="#fff" stroke="#555" stroke-width="1.2"/>
<line x1="466.5" y1="428.2" x2="466.5" y2="433.2" stroke="#333" stroke-width="1.2"/>
<line x1="464.2" y1="428.2" x2="468.8" y2="428.2" stroke="#333" stroke-width="1.3"/>
<rect x="444.0" y="433.1" width="44.9" height="75.5" fill="#1a1a1a"/>
<polygon points="466.50,414.00 467.18,416.07 469.35,416.07 467.59,417.36 468.26,419.43 466.50,418.15 464.74,419.43 465.41,417.36 463.65,416.07 465.82,416.07" fill="#111" stroke="#111" stroke-width="0.5" stroke-linejoin="round"/>
<text transform="translate(376,521) scale(1.05,1)" x="0" y="0" font-size="11.4" text-anchor="middle" fill="#1c1c1c" stroke="#1c1c1c" stroke-width="0.45">WT</text>
<text transform="translate(449.2,521) scale(1.05,1)" x="0" y="0" font-size="11.4" text-anchor="start" fill="#1c1c1c" stroke="#1c1c1c" stroke-width="0.45">Gas6<tspan font-size="6.8" dy="-4.3" letter-spacing="-0.2">-/-</tspan></text>
</svg>
</body></html>
